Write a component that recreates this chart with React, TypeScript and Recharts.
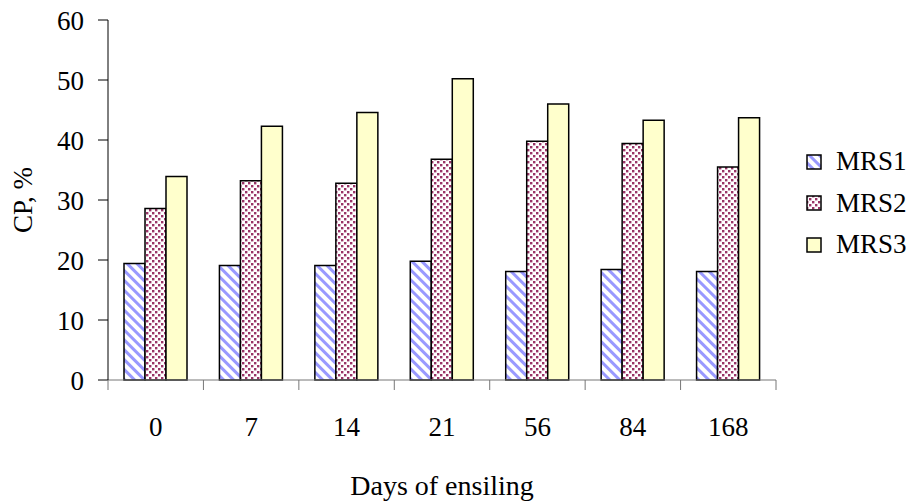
import React from 'react';
import { BarChart, Bar, XAxis, YAxis } from 'recharts';

const days = ['0', '7', '14', '21', '56', '84', '168'];
const mrs1 = [19.4, 19.1, 19.1, 19.8, 18.1, 18.4, 18.1];
const mrs2 = [28.6, 33.2, 32.8, 36.8, 39.8, 39.4, 35.5];
const mrs3 = [33.9, 42.3, 44.6, 50.2, 46.0, 43.3, 43.7];
const yTicks = [0, 10, 20, 30, 40, 50, 60];

const seriesNames = ['MRS1', 'MRS2', 'MRS3'];
const seriesFills = ['url(#stripes)', 'url(#dots)', '#FFFFCC'];

const FONT = '"Liberation Serif", "Times New Roman", serif';
const W = 906;
const H = 493;
const MARGIN = { top: 12, right: 138, bottom: 0, left: 0 };
const Y_WIDTH = 100;
const X_HEIGHT = 121;
const plotW = W - MARGIN.left - MARGIN.right - Y_WIDTH;

const data = days.map((d, i) => ({
	day: d,
	MRS1: mrs1[i],
	MRS2: mrs2[i],
	MRS3: mrs3[i],
}));

// category labels in the middle, tick marks on the borders (Excel style)
const DayTick = (props: any) => {
	const { x, y, payload, index } = props;
	const half = plotW / days.length / 2;
	return (
		<g>
			<line x1={x - half} x2={x - half} y1={y} y2={y + 10} stroke='#777' />
			{index === days.length - 1 && (
				<line x1={x + half} x2={x + half} y1={y} y2={y + 10} stroke='#777' />
			)}
			<text
				x={x}
				y={y + 56}
				textAnchor='middle'
				fontSize={27}
				fontFamily={FONT}
				fill='#000'
			>
				{payload.value}
			</text>
		</g>
	);
};

export default function App() {
	return (
		<div style={{ position: 'relative', width: W, height: H, background: '#fff' }}>
			<BarChart
				width={W}
				height={H}
				data={data}
				margin={MARGIN}
				barGap={0}
				barSize={21}
			>
				<defs>
					<pattern
						id='stripes'
						patternUnits='userSpaceOnUse'
						width={7}
						height={7}
						patternTransform='rotate(-45)'
					>
						<rect width={7} height={7} fill='#fff' />
						<rect width={3} height={7} fill='#9999FF' />
					</pattern>
					<pattern id='dots' patternUnits='userSpaceOnUse' width={6} height={6}>
						<rect width={6} height={6} fill='#fff' />
						<rect x={0} y={0} width={2.4} height={2.4} fill='#993366' />
						<rect x={3} y={3} width={2.4} height={2.4} fill='#993366' />
					</pattern>
				</defs>
				<XAxis
					dataKey='day'
					height={X_HEIGHT}
					stroke='#777'
					tickLine={false}
					tickSize={0}
					tickMargin={0}
					tick={<DayTick />}
					interval={0}
					label={{
						value: 'Days of ensiling',
						position: 'insideBottom',
						offset: 6,
						fontSize: 28,
						fontFamily: FONT,
						fill: '#000',
					}}
				/>
				<YAxis
					width={Y_WIDTH}
					domain={[0, 60]}
					ticks={yTicks}
					interval={0}
					stroke='#000'
					tickSize={10}
					tickMargin={14}
					tick={{ fontSize: 27, fontFamily: FONT, fill: '#000' }}
					label={{
						value: 'CP, %',
						angle: -90,
						position: 'insideLeft',
						offset: 14,
						fontSize: 27,
						fontFamily: FONT,
						fill: '#000',
						style: { textAnchor: 'middle' },
					}}
				/>
				{seriesNames.map((name, i) => (
					<Bar
						key={name}
						dataKey={name}
						fill={seriesFills[i]}
						stroke='#000'
						strokeWidth={1.5}
						isAnimationActive={false}
					/>
				))}
			</BarChart>

			{/* Legend */}
			<div style={{ position: 'absolute', left: 798, top: 133, fontFamily: FONT, fontSize: 27 }}>
				{seriesNames.map((name, i) => (
					<div key={name} style={{ display: 'flex', alignItems: 'center', height: 41.5 }}>
						<svg width={16} height={16} style={{ marginRight: 14 }}>
							<rect x={1} y={1} width={14} height={14} fill={seriesFills[i]} stroke='#000' strokeWidth={1.5} />
						</svg>
						<span style={{ lineHeight: 1 }}>{name}</span>
					</div>
				))}
			</div>
		</div>
	);
}
